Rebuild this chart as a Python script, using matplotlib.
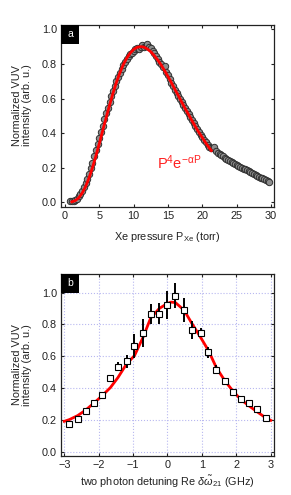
# -*- coding: utf-8 -*-
"""VUV intensity vs Xe pressure (a) and two-photon detuning (b)"""
import matplotlib
matplotlib.use('Agg')
import matplotlib.pyplot as plt
from matplotlib.patches import Rectangle

plt.rcParams['font.family'] = ['Liberation Sans', 'DejaVu Sans']
plt.rcParams['mathtext.fontset'] = 'custom'
plt.rcParams['mathtext.rm'] = 'Liberation Sans'
plt.rcParams['mathtext.it'] = 'Liberation Sans:italic'
plt.rcParams['mathtext.sf'] = 'Liberation Sans'

# ---- panel a: measured intensity vs Xe pressure ----
p_xe = [0.75, 1.00, 1.25, 1.50, 1.75, 2.00, 2.25, 2.50, 2.75, 3.00,
        3.25, 3.50, 3.75, 4.00, 4.25, 4.50, 4.75, 5.00, 5.25, 5.50,
        5.75, 6.00, 6.25, 6.50, 6.75, 7.00, 7.25, 7.50, 7.75, 8.00,
        8.25, 8.50, 8.75, 9.00, 9.25, 9.50, 9.75, 10.00, 10.25, 10.50,
        10.75, 11.00, 11.25, 11.50, 11.75, 12.00, 12.25, 12.50, 12.75, 13.00,
        13.25, 13.50, 13.75, 14.00, 14.25, 14.50, 14.75, 15.00, 15.25, 15.50,
        15.75, 16.00, 16.25, 16.50, 16.75, 17.00, 17.25, 17.50, 17.75, 18.00,
        18.25, 18.50, 18.75, 19.00, 19.25, 19.50, 19.75, 20.00, 20.25, 20.50,
        20.75, 21.00, 21.25, 21.50, 21.75, 22.00, 22.25, 22.50, 22.75, 23.00,
        23.25, 23.50, 23.75, 24.00, 24.25, 24.50, 24.75, 25.00, 25.25, 25.50,
        25.75, 26.00, 26.25, 26.50, 26.75, 27.00, 27.25, 27.50, 27.75, 28.00,
        28.25, 28.50, 28.75, 29.00, 29.25, 29.50, 29.75]
vuv_a = [0.006, 0.007, 0.008, 0.012, 0.022, 0.034, 0.050, 0.068, 0.088, 0.110,
         0.136, 0.165, 0.196, 0.230, 0.265, 0.300, 0.336, 0.372, 0.405, 0.442,
         0.482, 0.518, 0.548, 0.580, 0.615, 0.645, 0.672, 0.700, 0.724, 0.750,
         0.772, 0.792, 0.812, 0.830, 0.843, 0.856, 0.866, 0.876, 0.884, 0.890,
         0.885, 0.900, 0.912, 0.895, 0.905, 0.915, 0.900, 0.890, 0.875, 0.862,
         0.846, 0.830, 0.812, 0.797, 0.785, 0.790, 0.752, 0.735, 0.712, 0.692,
         0.670, 0.652, 0.632, 0.615, 0.597, 0.580, 0.562, 0.545, 0.527, 0.510,
         0.493, 0.476, 0.458, 0.441, 0.424, 0.407, 0.391, 0.376, 0.360, 0.346,
         0.333, 0.322, 0.316, 0.312, 0.318, 0.295, 0.285, 0.278, 0.272, 0.265,
         0.258, 0.252, 0.244, 0.238, 0.232, 0.225, 0.220, 0.215, 0.210, 0.205,
         0.200, 0.195, 0.190, 0.185, 0.180, 0.175, 0.169, 0.163, 0.157, 0.152,
         0.147, 0.142, 0.138, 0.134, 0.130, 0.125, 0.120]

# fit curve P^4 exp(-aP)
p_fit = [1.0, 1.5, 2.0, 2.5, 3.0, 3.5, 4.0, 4.5, 5.0, 5.5, 6.0, 6.5, 7.0, 7.5,
         8.0, 8.5, 9.0, 9.5, 10.0, 10.5, 11.0, 11.5, 12.0, 12.5, 13.0, 13.5,
         14.0, 14.5, 15.0, 15.5, 16.0, 16.5, 17.0, 17.5, 18.0, 18.5, 19.0,
         19.5, 20.0, 20.5, 21.0, 21.3]
fit_a = [0.003, 0.010, 0.026, 0.053, 0.091, 0.141, 0.200, 0.268, 0.340, 0.416,
         0.490, 0.563, 0.632, 0.695, 0.749, 0.797, 0.834, 0.863, 0.884, 0.896,
         0.900, 0.897, 0.886, 0.870, 0.848, 0.823, 0.794, 0.761, 0.727, 0.691,
         0.653, 0.617, 0.579, 0.542, 0.507, 0.471, 0.437, 0.404, 0.374, 0.343,
         0.315, 0.299]

# ---- panel b: intensity vs two photon detuning ----
detuning = [-2.85, -2.61, -2.38, -2.15, -1.91, -1.66, -1.44, -1.19, -0.96,
            -0.71, -0.49, -0.24, 0.00, 0.23, 0.48, 0.71, 0.96, 1.19, 1.42,
            1.66, 1.90, 2.13, 2.38, 2.61, 2.86]
vuv_b = [0.179, 0.209, 0.260, 0.306, 0.359, 0.462, 0.536, 0.570, 0.667,
         0.747, 0.865, 0.867, 0.922, 0.981, 0.890, 0.766, 0.749, 0.627, 0.517,
         0.447, 0.378, 0.331, 0.310, 0.268, 0.213]
err_b = [0.010, 0.010, 0.012, 0.020, 0.020, 0.022, 0.030, 0.040, 0.075,
         0.085, 0.065, 0.065, 0.085, 0.080, 0.075, 0.055, 0.030, 0.035, 0.030,
         0.015, 0.015, 0.010, 0.015, 0.010, 0.015]

det_fit = [-3.0, -2.85, -2.61, -2.38, -2.15, -1.91, -1.66, -1.44, -1.19, -0.96,
           -0.71, -0.49, -0.24, 0.0, 0.1, 0.23, 0.48, 0.71, 0.96, 1.19, 1.42,
           1.66, 1.90, 2.13, 2.38, 2.61, 2.86, 3.0]
fit_b = [0.194, 0.205, 0.230, 0.264, 0.306, 0.352, 0.405, 0.468, 0.553, 0.605,
         0.720, 0.840, 0.900, 0.932, 0.940, 0.937, 0.890, 0.806, 0.720, 0.637,
         0.530, 0.450, 0.384, 0.331, 0.289, 0.253, 0.215, 0.200]

TXT = '#222222'
FS = 7.8
ylab = 'Normalized VUV\nintensity (arb. u.)'

fig = plt.figure(figsize=(2.91, 4.95), dpi=100)
ax1 = fig.add_axes([0.2096, 0.5818, 0.732, 0.3677])
ax2 = fig.add_axes([0.2096, 0.0788, 0.732, 0.3677])


def style(ax, tag):
    ax.tick_params(direction='in', length=2.5, width=0.8, top=True, right=True,
                   labelsize=FS, pad=3)
    ax.tick_params(labelcolor=TXT, color='#222222')
    for s in ax.spines.values():
        s.set_linewidth(0.9)
        s.set_color('#222222')
    w, h = 0.085, 0.104
    ax.add_patch(Rectangle((0, 1 - h), w, h, transform=ax.transAxes,
                           facecolor='black', edgecolor='none', zorder=6))
    ax.text(w / 2, 1 - h / 2, tag, transform=ax.transAxes, color='white',
            ha='center', va='center', fontsize=7.5, zorder=7)


# (a)
ax1.plot(p_xe, vuv_a, 'o', ms=4.6, mfc='#8c8c8c', mec='#303030', mew=0.7, zorder=2)
ax1.plot(p_fit, fit_a, color='#ff0000', lw=2, zorder=3)
ax1.text(13.4, 0.19, r'P$^4$e$^{\mathrm{-\alpha P}}$', color='#ff2020', fontsize=10.5)
ax1.set_xlim(-0.58, 30.43)
ax1.set_ylim(-0.027, 1.025)
ax1.set_xticks([0, 5, 10, 15, 20, 25, 30])
ax1.set_yticks([0.0, 0.2, 0.4, 0.6, 0.8, 1.0])
ax1.set_yticklabels(['0.0', '0.2', '0.4', '0.6', '0.8', '1.0'])
ax1.set_xlabel(r'Xe pressure P$_{\rm Xe}$ (torr)', fontsize=FS, color=TXT, labelpad=6)
ax1.set_ylabel(ylab, fontsize=FS, color=TXT, linespacing=1.05)
ax1.yaxis.set_label_coords(-0.135, 0.56)
style(ax1, 'a')

# (b)
ax2.grid(True, color='#b8b8f0', linestyle=':', linewidth=0.8)
ax2.set_axisbelow(True)
ax2.plot(det_fit, fit_b, color='#ff0000', lw=2, zorder=3)
ax2.errorbar(detuning, vuv_b, yerr=err_b, fmt='s', ms=4.4, mfc='white', mec='black',
             mew=0.8, ecolor='black', elinewidth=1.4, capsize=0, zorder=4)
ax2.set_xlim(-3.096, 3.096)
ax2.set_ylim(-0.023, 1.116)
ax2.set_xticks([-3, -2, -1, 0, 1, 2, 3])
ax2.set_yticks([0.0, 0.2, 0.4, 0.6, 0.8, 1.0])
ax2.set_yticklabels(['0.0', '0.2', '0.4', '0.6', '0.8', '1.0'])
ax2.set_xlabel(r'two photon detuning Re $\delta\tilde{\omega}_{21}$ (GHz)',
               fontsize=FS, color=TXT, labelpad=3)
ax2.set_ylabel(ylab, fontsize=FS, color=TXT, linespacing=1.05)
ax2.yaxis.set_label_coords(-0.135, 0.5)
style(ax2, 'b')

plt.savefig('out.png', dpi=100)
plt.close()
